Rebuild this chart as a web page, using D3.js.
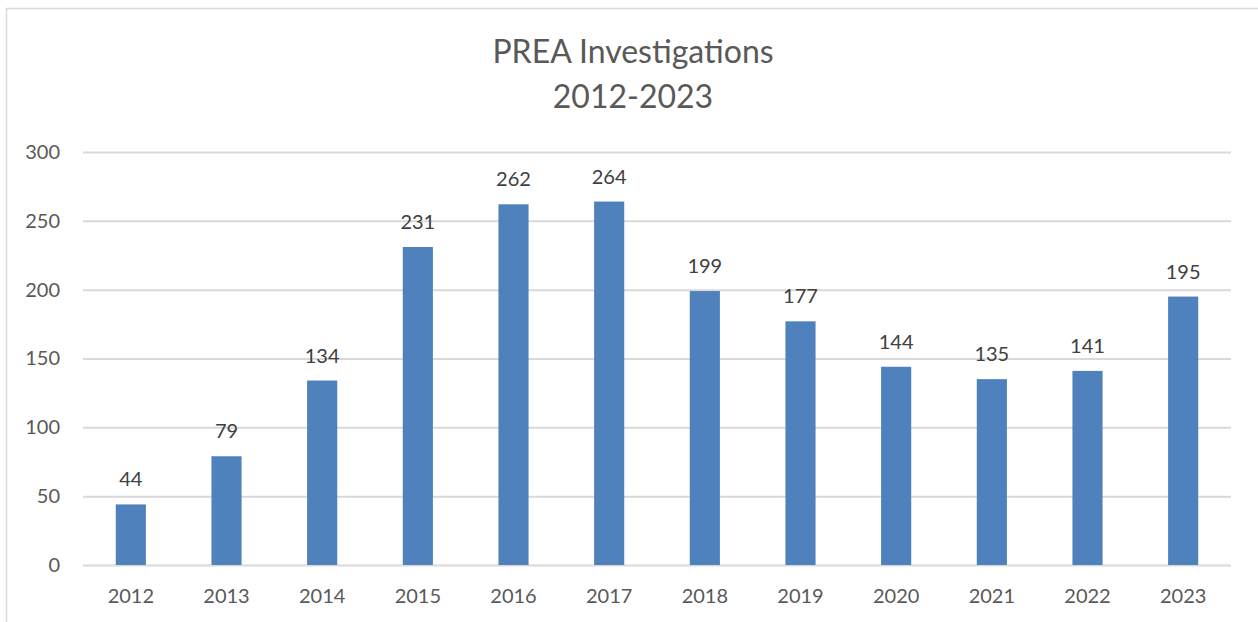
<!DOCTYPE html>
<html><head><meta charset="utf-8">
<script src="https://cdn.jsdelivr.net/npm/d3@7"></script>
<style>html,body{margin:0;padding:0;background:#fff;}svg{display:block;}</style>
</head><body>
<script>
const categories = ["2012","2013","2014","2015","2016","2017","2018","2019","2020","2021","2022","2023"];
const values = [44,79,134,231,262,264,199,177,144,135,141,195];
const yTicks = [0,50,100,150,200,250,300];
const titleLines = ["PREA Investigations","2012-2023"];

(function(){
const W=1258,H=622;
const svg=d3.select("body").append("svg").attr("width",W).attr("height",H);
const font="Lato, 'Open Sans', sans-serif";
svg.append("rect").attr("x",6.5).attr("y",8.5).attr("width",W+20).attr("height",H+20)
  .attr("fill","#fff").attr("stroke","#d9d9d9").attr("stroke-width",1.5);

const pLeft=83,pRight=1231,pTop=152,pBottom=565;
const x=d3.scaleBand().domain(categories).range([pLeft,pRight]).paddingInner(0.685).paddingOuter(0.3425);
const y=d3.scaleLinear().domain([0,300]).range([pBottom,pTop]);

const ga=svg.append("g").attr("transform",`translate(${pLeft},0)`)
  .call(d3.axisLeft(y).tickValues(yTicks).tickSize(-(pRight-pLeft)).tickPadding(23));
ga.select(".domain").remove();
ga.selectAll(".tick line").attr("stroke","#d9d9d9").attr("stroke-width",2);
ga.selectAll(".tick text").attr("fill","#595959").style("font-family",font).style("font-size","20px");

svg.selectAll("rect.bar").data(values).enter().append("rect").attr("class","bar")
  .attr("x",(d,i)=>x(categories[i])).attr("width",x.bandwidth())
  .attr("y",d=>y(d)).attr("height",d=>pBottom-y(d)).attr("fill","#4f81bd");

const gx=svg.append("g").attr("transform",`translate(0,${pBottom})`)
  .call(d3.axisBottom(x).tickSize(0).tickPadding(24));
gx.select(".domain").remove();
gx.selectAll(".tick text").attr("fill","#595959").style("font-family",font).style("font-size","20px");

svg.selectAll("text.lbl").data(values).enter().append("text").attr("class","lbl")
  .attr("x",(d,i)=>x(categories[i])+x.bandwidth()/2).attr("y",d=>y(d)-18)
  .attr("text-anchor","middle").attr("fill","#404040")
  .style("font-family",font).style("font-size","20px").text(d=>d);

svg.selectAll("text.title").data(titleLines).enter().append("text").attr("class","title")
  .attr("x",633).attr("y",(d,i)=>63+i*45).attr("text-anchor","middle").attr("fill","#595959")
  .style("font-family",font).style("font-size","32px").text(d=>d);
})();
</script>
</body></html>
